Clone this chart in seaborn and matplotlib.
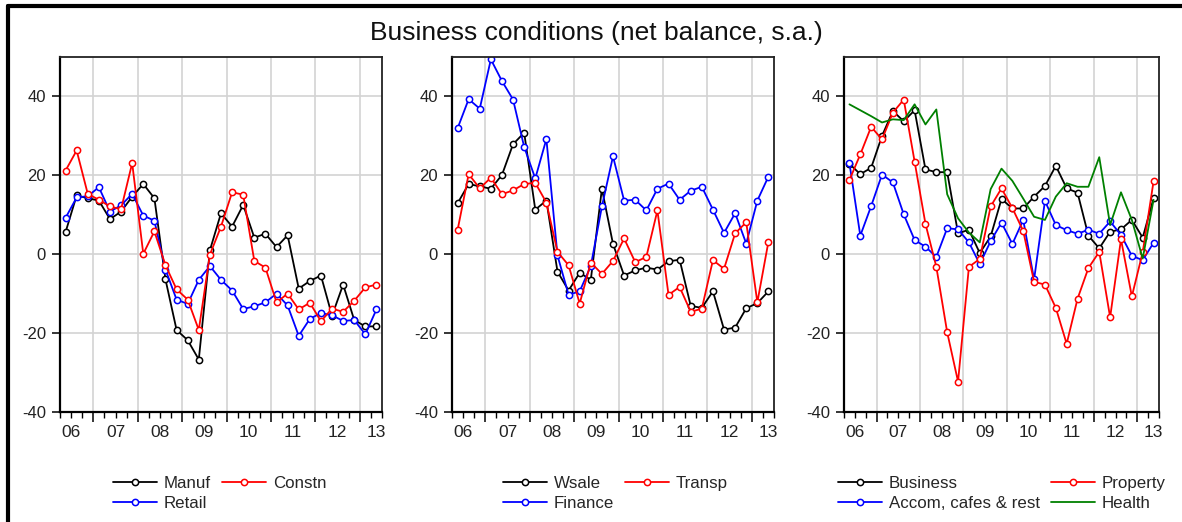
import numpy as np
import pandas as pd
import matplotlib
matplotlib.use("Agg")
import matplotlib.pyplot as plt
from matplotlib.lines import Line2D
import seaborn as sns

# ---- data (quarterly, 2006Q2 - 2013Q2) ----
quarters = pd.period_range("2006Q2", "2013Q2", freq="Q")

manuf = [5.6, 14.9, 14.2, 13.6, 8.9, 10.8, 14.6, 17.8, 14.2, -6.4, -19.2, -21.8, -26.7, 1.0, 10.4,
         7.0, 12.5, 4.2, 5.2, 1.8, 4.8, -8.7, -6.8, -5.4, -15.6, -7.7, -16.7, -18.3, -18.3]
constn = [21.2, 26.3, 15.3, 13.8, 12.1, 11.4, 23.1, 0.1, 5.8, -2.8, -8.9, -11.5, -19.2, -0.1, 7.0,
          15.7, 15.1, -1.7, -3.4, -12.2, -10.0, -14.0, -12.3, -17.0, -13.8, -14.6, -11.8, -8.4, -7.7]
retail = [9.2, 14.4, 14.7, 17.0, 10.8, 12.4, 15.3, 9.8, 8.5, -3.9, -11.5, -12.6, -6.5, -3.0, -6.5,
          -9.2, -13.9, -13.2, -12.2, -10.0, -13.0, -20.7, -16.4, -14.9, -15.5, -16.9, -16.7, -20.3, -14.0]

wsale = [12.9, 17.8, 17.2, 16.6, 20.1, 27.9, 30.8, 11.3, 13.6, -4.4, -9.2, -4.7, -6.5, 16.6, 2.6,
         -5.4, -4.1, -3.4, -3.9, -1.8, -1.4, -13.1, -13.6, -9.4, -19.1, -18.6, -13.7, -12.4, -9.4]
transp = [6.1, 20.3, 16.7, 19.4, 15.2, 16.2, 17.8, 18.1, 13.1, 0.6, -2.8, -12.5, -2.1, -5.0, -1.7,
          4.0, -2.0, -0.7, 11.1, -10.3, -8.3, -14.6, -13.8, -1.5, -3.7, 5.3, 8.1, -12.2, 3.2]
finance = [31.9, 39.3, 36.9, 49.4, 43.9, 39.2, 27.2, 19.2, 29.2, -0.3, -10.3, -9.4, -3.0, 12.1, 24.8,
           13.6, 13.8, 11.1, 16.6, 17.9, 13.8, 16.1, 17.1, 11.3, 5.4, 10.4, 2.7, 13.6, 19.7]

business = [22.9, 20.3, 21.9, 30.0, 36.3, 33.7, 36.5, 21.5, 20.8, 20.8, 5.3, 6.2, 0.3, 4.5, 14.0,
            11.6, 11.6, 14.6, 17.3, 22.4, 16.7, 15.6, 4.7, 1.5, 5.7, 6.3, 8.7, 4.2, 14.2]
prop = [18.8, 25.3, 32.3, 29.1, 35.9, 39.2, 23.5, 7.7, -3.2, -19.8, -32.3, -3.2, -1.2, 12.1, 16.7,
        11.7, 5.9, -7.0, -7.7, -13.6, -22.7, -11.3, -3.5, 0.6, -16.0, 3.8, -10.7, 0.5, 18.5]
accom = [23.1, 4.7, 12.2, 20.2, 18.2, 10.1, 3.6, 1.9, -0.7, 6.6, 6.3, 3.0, -2.5, 3.3, 8.0,
         2.6, 8.7, -6.4, 13.5, 7.4, 6.1, 5.2, 6.2, 5.2, 8.3, 4.9, -0.4, -1.5, 2.9]
health = [38.0, 36.5, 35.0, 33.4, 34.2, 34.0, 38.0, 32.9, 36.7, 15.2, 9.1, 5.5, 3.0, 16.5, 21.7,
          18.6, 14.1, 9.5, 8.7, 14.6, 18.0, 17.1, 17.1, 24.6, 7.4, 15.7, 8.7, -1.1, 13.8]

year_labels = ["06", "07", "08", "09", "10", "11", "12", "13"]

# ---- setup ----
sns.set_theme(style="ticks")
plt.rcParams["font.family"] = ["Liberation Sans", "DejaVu Sans"]
plt.rcParams["axes.unicode_minus"] = False

# mid-quarter x positions
xq = np.array([p.year + (p.quarter - 1) * 0.25 + 0.125 for p in quarters])

panels = [
    ([60, 322], [("Manuf", manuf, "black", True), ("Retail", retail, "blue", True),
                 ("Constn", constn, "red", True)], 113),
    ([452, 322], [("Wsale", wsale, "black", True), ("Finance", finance, "blue", True),
                  ("Transp", transp, "red", True)], 503),
    ([844, 315], [("Business", business, "black", True), ("Accom, cafes & rest", accom, "blue", True),
                  ("Property", prop, "red", True), ("Health", health, "green", False)], 838),
]

W, H = 1182, 522
fig = plt.figure(figsize=(W / 100, H / 100), dpi=100)
fig.patch.set_facecolor("white")

for (left, width), series, leg_x in panels:
    ax = fig.add_axes([left / W, 1 - 412 / H, width / W, 355 / H])
    handles = []
    for name, vals, col, mark in series:
        kw = dict(marker="o", markersize=4.5, markerfacecolor="white",
                  markeredgecolor=col, markeredgewidth=1.1) if mark else {}
        sns.lineplot(x=xq, y=vals, ax=ax, color=col, linewidth=1.3, **kw)
        handles.append(Line2D([], [], color=col, lw=1.3, label=name, **kw))

    ax.set_xlim(2006.25, 2013.5)
    ax.set_ylim(-40, 50)
    ax.set_yticks([-40, -20, 0, 20, 40])
    ax.set_xticks(range(2007, 2014))
    ax.set_xticklabels([])
    ax.set_xticks(np.arange(2006.25, 2013.51, 0.25), minor=True)
    ax.grid(True, which="major", color="#d3d3d3", linewidth=1.2)
    ax.set_axisbelow(True)
    ax.tick_params(axis="x", which="major", length=7, width=1.1, color="black")
    ax.tick_params(axis="x", which="minor", length=4, width=1.0, color="black")
    ax.tick_params(axis="y", length=6, width=1.1, color="black", labelsize=12,
                   pad=4, labelcolor="#222222")
    for s in ax.spines.values():
        s.set_color("#222222")
        s.set_linewidth(1.3)
    ax.spines["left"].set_color("black")
    ax.spines["bottom"].set_color("black")
    ax.spines["left"].set_linewidth(1.6)
    ax.spines["bottom"].set_linewidth(1.6)
    ax.set_xlabel("")
    ax.set_ylabel("")

    # year labels centred in each year
    pos = [2006.5 + k for k in range(7)] + [2013.38]
    for p, lab in zip(pos, year_labels):
        ax.text(p, -0.058, lab, transform=ax.get_xaxis_transform(),
                ha="center", va="center", fontsize=12.5, color="#222222")

    fig.legend(handles=handles, ncol=2, frameon=False, loc="upper left",
               bbox_to_anchor=(leg_x / W, 1 - 476 / H), borderpad=0, borderaxespad=0,
               fontsize=12.2, handlelength=2.6, handletextpad=0.4,
               columnspacing=0.65, labelspacing=0.3)

fig.suptitle("Business conditions (net balance, s.a.)", x=596 / W, y=1 - 33 / H,
             va="center", fontsize=19, color="#111111")

# outer frame (left and top edges visible)
fig.add_artist(Line2D([8 / W, 8 / W], [0, 1 - 6 / H], color="black", lw=3,
                      transform=fig.transFigure))
fig.add_artist(Line2D([8 / W, 1], [1 - 6 / H, 1 - 6 / H], color="black", lw=3,
                      transform=fig.transFigure))

fig.savefig("out.png", dpi=100)
